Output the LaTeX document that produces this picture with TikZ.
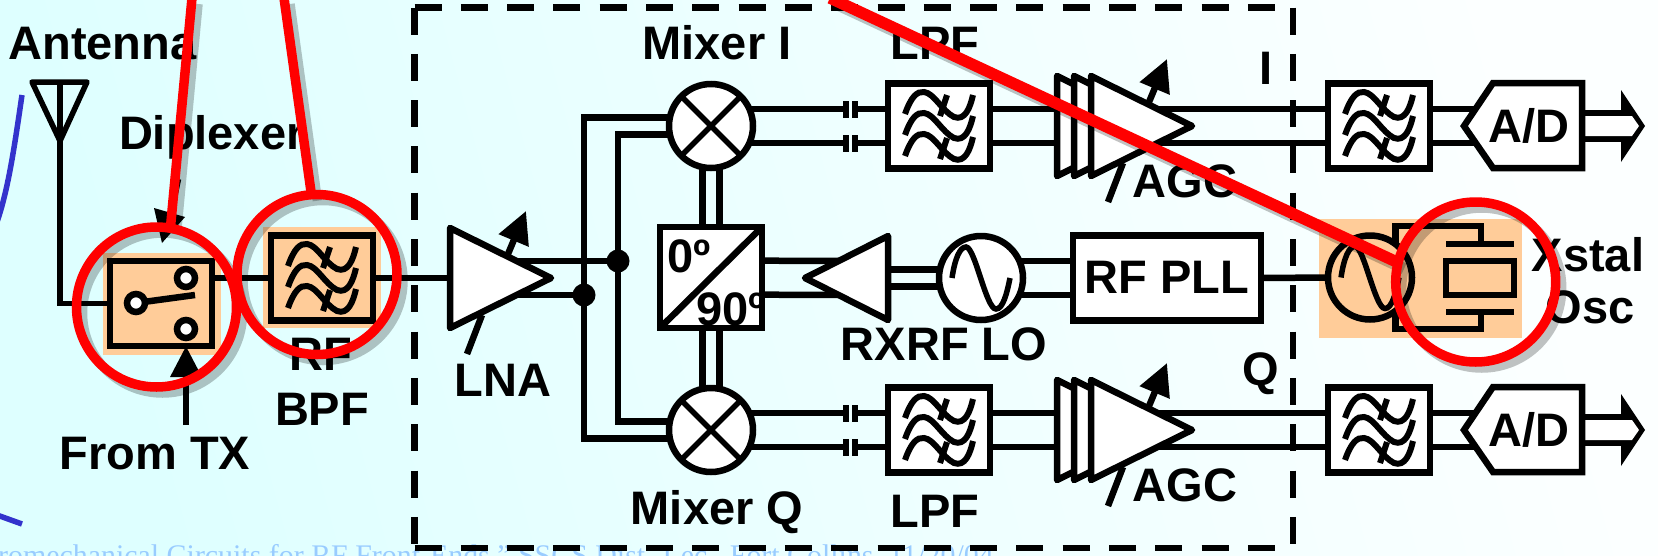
\documentclass[tikz,border=0pt]{standalone}
\usepackage{fontspec}
\setmainfont{Liberation Sans}
\newfontfamily\footfont{Liberation Serif}
\usetikzlibrary{arrows.meta,backgrounds}
\definecolor{ringred}{RGB}{255,0,0}
\definecolor{hilite}{RGB}{255,204,153}
\definecolor{curveblue}{RGB}{51,51,204}
\definecolor{footblue}{RGB}{153,204,255}
\definecolor{bgleft}{RGB}{222,255,255}
\definecolor{bgright}{RGB}{252,255,255}
\tikzset{
  wire/.style={line width=6.5pt},
  ampline/.style={wire, line join=round, fill=white},
  lab/.style={font=\fontsize{47}{52}\selectfont\bfseries, anchor=base, inner sep=0pt, outer sep=0pt},
  blockbox/.style={draw, line width=6.5pt, inner sep=0pt, outer sep=0pt, minimum width=102pt, minimum height=85pt},
  disc/.style={circle, draw, line width=6.5pt, fill=white, inner sep=0pt, outer sep=0pt, minimum size=84pt},
  contact/.style={circle, draw, line width=6.5pt, fill=white, inner sep=0pt, outer sep=0pt, minimum size=18pt},
  joint/.style={circle, fill=black, inner sep=0pt, outer sep=0pt, minimum size=23pt},
  plate/.style={fill=black, inner sep=0pt, outer sep=0pt, minimum width=68pt, minimum height=6.5pt},
  ring/.style={circle, draw=ringred, line width=9.5pt, inner sep=0pt, outer sep=0pt, minimum size=160pt},
  ringline/.style={draw=ringred, line width=9.5pt},
  ringshade/.style={draw=black, opacity=.24, line width=9.5pt},
  amp/.pic={
    \coordinate (-c) at (-60,0);
    \draw[wire,-{Triangle[length=32pt,width=31pt]}] (-44,-24) -- (-26,-67);
    \draw[wire] (-85,76) -- (-70,37);
    \filldraw[ampline] (-102,-50) -- (-1,0) -- (-102,50) -- cycle;
  },
  agc/.pic={
    \coordinate (-c) at (-60,0);
    \filldraw[ampline] (-136,-50) -- (-35,0) -- (-136,50) -- cycle;
    \filldraw[ampline] (-119,-50) -- (-18,0) -- (-119,50) -- cycle;
    \pic at (0,0) {amp};
  },
  fltsym/.pic={
    \draw[line width=6pt] (-34,-12) .. controls (-28,-29) and (-22,-35) .. (-15,-34) .. controls (-5,-33) and (3,-15) .. (15,-9) .. controls (26,-5) and (31,-18) .. (34,-31);
    \draw[line width=6pt] (-34,9) .. controls (-28,-8) and (-22,-14) .. (-15,-13) .. controls (-5,-12) and (3,6) .. (15,12) .. controls (26,16) and (31,3) .. (34,-10);
    \draw[line width=6pt] (-34,30) .. controls (-28,13) and (-22,7) .. (-15,8) .. controls (-5,9) and (3,27) .. (15,33) .. controls (26,37) and (31,24) .. (34,11);
    \draw[line width=6pt] (8,-31) -- (1,-10);
    \draw[line width=6pt] (8,12) -- (1,33);
  },
  sinesym/.pic={
    \draw[line width=5.5pt] (-29,0) .. controls (-26,-20) and (-21,-31) .. (-15,-31) .. controls (-6,-31) and (5,31) .. (15,31) .. controls (22,31) and (26,15) .. (29,0);
  },
  capsym/.pic={
    \coordinate (-l) at (-4,0);
    \coordinate (-r) at (4,0);
    \fill (-7.5,-8.5) rectangle (-1.5,8.5);
    \fill (1.5,-8.5) rectangle (7.5,8.5);
  },
  adsym/.pic={
    \coordinate (-c) at (60,0);
    \fill (157,-36) -- (181,0) -- (157,36) -- cycle;
    \draw[wire] (118,-13) -- (160,-13);
    \draw[wire] (118,13) -- (160,13);
    \fill[white] (121,-10) -- (168,-10) -- (175,0) -- (168,10) -- (121,10) -- cycle;
    \filldraw[wire, fill=white] (0,0) -- (29,-43) -- (118,-43) -- (118,42) -- (29,42) -- cycle;
    \node[lab] (-txt) at (65,16) {A/D};
  },
}
\begin{document}
\begin{tikzpicture}[x=1pt,y=-1pt]
  \path[use as bounding box,clip] (0,0) rectangle (1658,555);
  \begin{pgfonlayer}{background}
    \shade[left color=bgleft, right color=bgright, shading angle=105] (0,0) rectangle (1658,555);
    \begin{scope}
      \clip (0,0) rectangle (1658,555);
      \node[anchor=base west, inner sep=0pt, text=footblue, font=\fontsize{29.9}{32}\selectfont\footfont] (credit) at (-2,565.5) {romechanical Circuits for RF Front-Ends,” SSCS Dist. Lec., Fort Collins, 11/20/04};
      \draw[curveblue, line width=5.5pt] (22,95) .. controls (14,150) and (8,190) .. (-3,222);
      \draw[curveblue, line width=5.5pt] (-3,515) -- (22,524);
    \end{scope}
    \fill[hilite] (103,253) rectangle (221,355);
    \fill[hilite] (263,227) rectangle (381,328);
    \fill[hilite] (1319,219) rectangle (1522,337.5);
  \end{pgfonlayer}

  % front end
  \node[blockbox, minimum height=85pt] (swbox) at (161,303.5) {};
  \node[blockbox] (bpf) at (322,278) {};
  \pic at (bpf) {fltsym};
  \node[contact] (swc) at (136,303) {};
  \node[contact] (swa) at (186,278) {};
  \node[contact] (swb) at (186,329) {};
  \coordinate (swarm) at (195,295);
  \pic (lna) at (552,278) {amp};
  \node[joint] (dota) at (618,261) {};
  \node[joint] (dotb) at (584,295) {};

  % I and Q paths
  \node[disc] (mixi) at (711,126) {};
  \node[disc] (mixq) at (711,430) {};
  \draw[line width=5.5pt] (mixi.north west) -- (mixi.south east) (mixi.north east) -- (mixi.south west);
  \draw[line width=5.5pt] (mixq.north west) -- (mixq.south east) (mixq.north east) -- (mixq.south west);
  \node[blockbox, fill=white, minimum height=101pt] (quad) at (711,277.5) {};
  \node[lab, anchor=base west] (phi) at (667,272) {0º};
  \node[lab, anchor=base west] (phq) at (696,325) {90º};
  \draw[wire] (quad.south west) -- (quad.north east);
  \draw[wire] (quad.south west) rectangle (quad.north east);
  \pic (capia) at (850,109) {capsym};
  \pic (capib) at (850,143) {capsym};
  \pic (capqa) at (850,413) {capsym};
  \pic (capqb) at (850,447) {capsym};
  \node[blockbox, fill=white] (lpfi) at (939,126) {};
  \node[blockbox, fill=white] (lpfq) at (939,430) {};
  \pic at (lpfi) {fltsym};
  \pic at (lpfq) {fltsym};
  \pic (agci) at (1193,126) {agc};
  \pic (agcq) at (1193,430) {agc};
  \node[blockbox, fill=white] (flti) at (1379,126) {};
  \node[blockbox, fill=white] (fltq) at (1379,430) {};
  \pic at (flti) {fltsym};
  \pic at (fltq) {fltsym};
  \pic (adi) at (1464,126) {adsym};
  \pic (adq) at (1464,430) {adsym};

  % LO chain
  \coordinate (rxamp) at (805,278);
  \coordinate (rxmid) at (850,278);
  \filldraw[ampline] (rxamp) -- (888,236) -- (888,320) -- cycle;
  \node[disc] (lo) at (981,278) {};
  \pic at (lo) {sinesym};
  \node[blockbox, fill=white, minimum width=188pt] (pll) at (1167,278) {};
  \node[lab] (plltxt) at (1167,293) {RF PLL};
  \node[disc, fill=none] (osc) at (1370,277.5) {};
  \pic at (osc) {sinesym};
  \node[plate] (platet) at (1480,244) {};
  \node[draw, line width=6.5pt, inner sep=0pt, outer sep=0pt, minimum width=68pt, minimum height=34pt] (xtal) at (1480,278) {};
  \node[plate] (plateb) at (1480,312) {};
  \coordinate (leadt) at (1481,226);
  \coordinate (leadb) at (1481,329);

  \begin{pgfonlayer}{background}
    \draw[wire] (swbox.east |- bpf) -- (bpf.west);
    \draw[wire] (bpf.east) -- (lna-c);
    \draw[wire] (swc.center) -- (swarm);
    \draw[wire] ([yshift=17pt]lna-c) -- (dota.center);
    \draw[wire] ([yshift=-17pt]lna-c) -- (dotb.center);
    \draw[wire] ([yshift=8.5pt]mixi.center) -| (dotb.center) |- ([yshift=-8.5pt]mixq.center);
    \draw[wire] ([yshift=-8.5pt]mixi.center) -| (dota.center) |- ([yshift=8.5pt]mixq.center);
    \draw[wire] ([xshift=-8.5pt]mixi.center) -- ([xshift=-8.5pt]mixq.center);
    \draw[wire] ([xshift=8.5pt]mixi.center) -- ([xshift=8.5pt]mixq.center);
    \draw[wire] ([yshift=17pt]mixi.center) -- (capia-l);
    \draw[wire] (capia-r) -- ([yshift=17pt]lpfi.center);
    \draw[wire] ([yshift=-17pt]mixi.center) -- (capib-l);
    \draw[wire] (capib-r) -- ([yshift=-17pt]lpfi.center);
    \draw[wire] ([yshift=17pt]mixq.center) -- (capqa-l);
    \draw[wire] (capqa-r) -- ([yshift=17pt]lpfq.center);
    \draw[wire] ([yshift=-17pt]mixq.center) -- (capqb-l);
    \draw[wire] (capqb-r) -- ([yshift=-17pt]lpfq.center);
    \draw[wire] ([yshift=17pt]lpfi.center) -- ([yshift=17pt]flti.center);
    \draw[wire] ([yshift=-17pt]lpfi.center) -- ([yshift=-17pt]flti.center);
    \draw[wire] ([yshift=17pt]lpfq.center) -- ([yshift=17pt]fltq.center);
    \draw[wire] ([yshift=-17pt]lpfq.center) -- ([yshift=-17pt]fltq.center);
    \draw[wire] ([yshift=17pt]flti.center) -- ([yshift=17pt]adi-c);
    \draw[wire] ([yshift=-17pt]flti.center) -- ([yshift=-17pt]adi-c);
    \draw[wire] ([yshift=17pt]fltq.center) -- ([yshift=17pt]adq-c);
    \draw[wire] ([yshift=-17pt]fltq.center) -- ([yshift=-17pt]adq-c);
    \draw[wire] ([yshift=17pt]quad.center) -- ([yshift=17pt]rxmid);
    \draw[wire] ([yshift=-17pt]quad.center) -- ([yshift=-17pt]rxmid);
    \draw[wire] ([yshift=8.5pt]rxmid) -- ([yshift=8.5pt]lo.center);
    \draw[wire] ([yshift=-8.5pt]rxmid) -- ([yshift=-8.5pt]lo.center);
    \draw[wire] ([yshift=17pt]lo.center) -- ([yshift=17pt]pll.center);
    \draw[wire] ([yshift=-17pt]lo.center) -- ([yshift=-17pt]pll.center);
    \draw[wire] (pll.east) -- (osc.west);
    \draw[wire] (osc.53) |- (leadt) -- (leadt |- platet);
    \draw[wire] (osc.-53) |- (leadb) -- (leadb |- plateb);
  \end{pgfonlayer}

  % antenna
  \coordinate (anttop) at (60,82);
  \draw[wire, line join=round, line width=5.5pt] (32,82) -- (87,82) -- (60,141) -- cycle;
  \draw[wire, line width=5.5pt] (anttop) |- (swbox.west);
  \coordinate (txend) at (186,425);
  \draw[wire,-{Triangle[length=31pt,width=30pt]}] (txend) -- (txend |- swbox.south);

  % receiver frame
  \coordinate (frametl) at (414.5,7.5);
  \coordinate (framebr) at (1293,548);
  \draw[line width=6.5pt, dash pattern=on 27pt off 19.3pt] (frametl) -- (frametl -| framebr);
  \draw[line width=6.5pt, dash pattern=on 27pt off 19.3pt] (frametl) -- (frametl |- framebr);
  \draw[line width=6.5pt, dash pattern=on 27pt off 19.3pt] (frametl |- framebr) -- (framebr);
  \draw[line width=6.5pt, dash pattern=on 27pt off 19.3pt] (frametl -| framebr) -- (framebr);

  \node[lab, anchor=base west] (antlab) at (8.5,59) {Antenna};
  \node[lab, anchor=base west] (diplab) at (119,149) {Diplexer};
  \node[lab] (rflab) at (321,370) {RF};
  \node[lab] (bpflab) at (322,425) {BPF};
  \node[lab] (txlab) at (155,469) {From TX};
  \node[lab] (lnalab) at (503,396) {LNA};
  \node[lab] (mixilab) at (717,59) {Mixer I};
  \node[lab] (mixqlab) at (717,524) {Mixer Q};
  \node[lab] (lpfilab) at (935,59) {LPF};
  \node[lab] (lpfqlab) at (935,527) {LPF};
  \node[lab] (lolab) at (944,360) {RXRF LO};
  \node[lab] (agcilab) at (1185,197) {AGC};
  \node[lab] (agcqlab) at (1185,501) {AGC};
  \node[lab] (ilab) at (1266,84) {I};
  \node[lab] (qlab) at (1261,385) {Q};
  \node[lab] (xtlab) at (1588,271) {Xstal};
  \node[lab] (osclab) at (1590,323) {Osc};

  % callouts
  \coordinate (tipa) at (192,-2);
  \coordinate (tipb) at (284,-2);
  \coordinate (tipc) at (830,-2);
  \draw[wire] (178,179) -- (171,212);
  \fill (154,208) -- (185,217) -- (162,243) -- cycle;
  \node[ring, draw=none] (ringsw) at (156.5,307) {};
  \node[ring, draw=none] (ringbpf) at (317,274.5) {};
  \node[ring, draw=none] (ringosc) at (1475.7,282) {};
  \draw[ringshade] ([shift={(6,6)}]ringsw.center) circle[radius=80];
  \draw[ringshade] ([shift={(6,6)}]ringbpf.center) circle[radius=80];
  \draw[ringshade] ([shift={(6,6)}]ringosc.center) circle[radius=80];
  \draw[ringshade] ([shift={(6,6)}]tipa) -- ([shift={(6,6)}]ringsw.80);
  \draw[ringshade] ([shift={(6,6)}]tipb) -- ([shift={(6,6)}]ringbpf.94);
  \draw[ringshade, line width=11.5pt] ([shift={(6,6)}]tipc) -- ([shift={(6,6)}]ringosc.166);
  \node[ring] at (ringsw) {};
  \node[ring] at (ringbpf) {};
  \node[ring] at (ringosc) {};
  \draw[ringline] (tipa) -- (ringsw.80);
  \draw[ringline] (tipb) -- (ringbpf.94);
  \draw[ringline, line width=11.5pt] (tipc) -- (ringosc.166);
\end{tikzpicture}
\end{document}
